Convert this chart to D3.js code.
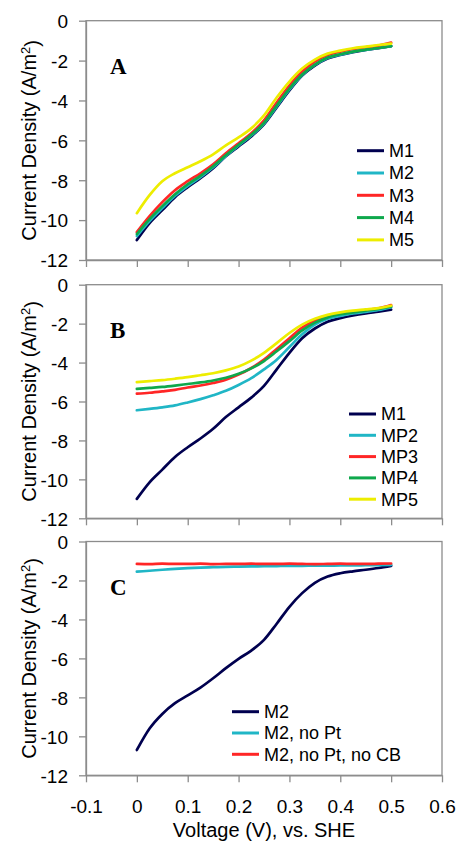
<!DOCTYPE html>
<html>
<head>
    <title>Current Density vs Voltage</title>
    <script src="https://d3js.org/d3.v7.min.js"></script>
    <style>
        body {
            margin: 0;
            background: #fff;
            font-family: Arial, "Liberation Sans", sans-serif;
        }
        .axis path, .axis line {
            stroke: #8c8c8c;
            stroke-width: 1.3;
        }
        .axis text {
            fill: #000;
            font-size: 19px;
            font-family: Arial, "Liberation Sans", sans-serif;
        }
        .series {
            fill: none;
            stroke-width: 2.7;
            stroke-linejoin: round;
            stroke-linecap: round;
        }
    </style>
</head>
<body>
    <div id="chart"></div>

    <script>
        // Voltage (V vs SHE) sample points shared by all curves
        const voltage = [0, 0.025, 0.05, 0.075, 0.1, 0.125, 0.15, 0.175, 0.2, 0.225, 0.25,
                         0.275, 0.3, 0.325, 0.35, 0.375, 0.4, 0.425, 0.45, 0.475, 0.5];

        // Panel A
        const seriesA = ["M1", "M2", "M3", "M4", "M5"];
        const m1 = [-11.0, -10.15, -9.5, -8.85, -8.35, -7.9, -7.4, -6.8, -6.3, -5.8, -5.2,
                    -4.35, -3.5, -2.75, -2.25, -1.9, -1.72, -1.58, -1.47, -1.38, -1.28];
        const m2 = [-10.8, -10.05, -9.4, -8.78, -8.28, -7.84, -7.35, -6.78, -6.26, -5.76, -5.16,
                    -4.3, -3.45, -2.72, -2.22, -1.87, -1.7, -1.56, -1.46, -1.37, -1.28];
        const m3 = [-10.6, -9.8, -9.1, -8.5, -8.05, -7.65, -7.2, -6.65, -6.15, -5.65, -5.0,
                    -4.1, -3.25, -2.55, -2.05, -1.72, -1.55, -1.42, -1.33, -1.25, -1.1];
        const m4 = [-10.7, -9.95, -9.3, -8.7, -8.2, -7.78, -7.3, -6.75, -6.22, -5.72, -5.12,
                    -4.25, -3.4, -2.7, -2.2, -1.85, -1.68, -1.55, -1.45, -1.37, -1.28];
        const m5 = [-9.65, -8.75, -8.05, -7.65, -7.35, -7.05, -6.7, -6.25, -5.85, -5.4, -4.75,
                    -3.85, -3.05, -2.4, -1.95, -1.65, -1.5, -1.38, -1.3, -1.22, -1.15];

        // Panel B
        const seriesB = ["M1", "MP2", "MP3", "MP4", "MP5"];
        const mp2 = [-6.45, -6.38, -6.3, -6.2, -6.05, -5.88, -5.68, -5.45, -5.15, -4.8, -4.35,
                     -3.85, -3.2, -2.55, -2.05, -1.75, -1.6, -1.48, -1.4, -1.3, -1.15];
        const mp3 = [-5.6, -5.55, -5.48, -5.4, -5.28, -5.18, -5.05, -4.88, -4.62, -4.28, -3.85,
                     -3.3, -2.75, -2.2, -1.85, -1.62, -1.48, -1.38, -1.3, -1.22, -1.05];
        const mp4 = [-5.35, -5.3, -5.25, -5.18, -5.1, -5.02, -4.92, -4.78, -4.58, -4.3, -3.92,
                     -3.42, -2.9, -2.35, -1.95, -1.68, -1.52, -1.42, -1.33, -1.25, -1.12];
        const mp5 = [-5.0, -4.95, -4.9, -4.83, -4.75, -4.65, -4.55, -4.4, -4.2, -3.9, -3.5,
                     -3.0, -2.48, -2.05, -1.75, -1.55, -1.42, -1.33, -1.27, -1.2, -1.08];

        // Panel C
        const seriesC = ["M2", "M2, no Pt", "M2, no Pt, no CB"];
        const m2c = [-10.7, -9.6, -8.85, -8.3, -7.9, -7.5, -7.02, -6.5, -6.02, -5.6, -5.05,
                     -4.22, -3.35, -2.65, -2.12, -1.8, -1.63, -1.53, -1.45, -1.36, -1.25];
        const m2NoPt = [-1.55, -1.5, -1.45, -1.41, -1.37, -1.34, -1.32, -1.3, -1.29, -1.28, -1.27,
                        -1.26, -1.25, -1.25, -1.24, -1.24, -1.23, -1.23, -1.22, -1.21, -1.2];
        const m2NoPtNoCB = [-1.15, -1.16, -1.14, -1.15, -1.15, -1.14, -1.16, -1.15, -1.15, -1.14, -1.15,
                            -1.15, -1.14, -1.15, -1.16, -1.15, -1.14, -1.15, -1.15, -1.14, -1.13];

        // Ticks
        const xTicks = [-0.1, 0, 0.1, 0.2, 0.3, 0.4, 0.5, 0.6];
        const xTickLabels = ["-0.1", "0", "0.1", "0.2", "0.3", "0.4", "0.5", "0.6"];
        const yTicks = [0, -2, -4, -6, -8, -10, -12];
        const yTickLabels = ["0", "-2", "-4", "-6", "-8", "-10", "-12"];

        const colors = ["#00004f", "#20b6c6", "#ff2626", "#0ea84c", "#eded00"];

        // Panels: layout + which series go where
        const panels = [
            {letter: "A", top: 20.7, bottom: 260, names: seriesA, values: [m1, m2, m3, m4, m5],
             colors: colors, legendX: 357, legendY: 150.7, legendStep: 22.3},
            {letter: "B", top: 284.7, bottom: 518.3, names: seriesB, values: [m1, mp2, mp3, mp4, mp5],
             colors: colors, legendX: 349, legendY: 414, legendStep: 21.3},
            {letter: "C", top: 541.5, bottom: 775.3, names: seriesC, values: [m2c, m2NoPt, m2NoPtNoCB],
             colors: [colors[0], colors[1], colors[2]], legendX: 232, legendY: 711.7, legendStep: 21.3, xLabels: true}
        ];

        const width = 460, height = 842;
        const left = 86, right = 442;

        const svg = d3.select('#chart')
            .append('svg')
            .attr('width', width)
            .attr('height', height);

        const x = d3.scaleLinear().domain([-0.1, 0.6]).range([left, right]);

        panels.forEach(p => {
            const y = d3.scaleLinear().domain([-12, 0]).range([p.bottom, p.top]);
            const g = svg.append('g');

            // plot frame
            g.append('rect')
                .attr('x', left)
                .attr('y', p.top)
                .attr('width', right - left)
                .attr('height', p.bottom - p.top)
                .attr('fill', 'none')
                .attr('stroke', '#8c8c8c')
                .attr('stroke-width', 1.3);

            // y axis
            g.append('g')
                .attr('class', 'axis')
                .attr('transform', `translate(${left},0)`)
                .call(d3.axisLeft(y)
                    .tickValues(yTicks)
                    .tickFormat((d, i) => yTickLabels[i])
                    .tickSize(7)
                    .tickSizeOuter(0)
                    .tickPadding(11))
                .selectAll('text')
                .attr('dy', '0.36em');

            // x axis
            g.append('g')
                .attr('class', 'axis')
                .attr('transform', `translate(0,${p.bottom})`)
                .call(d3.axisBottom(x)
                    .tickValues(xTicks)
                    .tickFormat((d, i) => p.xLabels ? xTickLabels[i] : '')
                    .tickSize(7)
                    .tickSizeOuter(0)
                    .tickPadding(17));

            // y title
            const yt = g.append('text')
                .attr('transform', `translate(36,${(p.top + p.bottom) / 2}) rotate(-90)`)
                .attr('text-anchor', 'middle')
                .style('font-size', '20px')
                .text('Current Density (A/m');
            yt.append('tspan')
                .attr('dy', '-0.45em')
                .style('font-size', '13px')
                .text('2');
            yt.append('tspan')
                .attr('dy', '0.45em')
                .text(')');

            // panel letter
            g.append('text')
                .attr('x', 110)
                .attr('y', p.top + 53.5)
                .style('font-family', '"Liberation Serif", "Times New Roman", serif')
                .style('font-weight', 'bold')
                .style('font-size', '23px')
                .text(p.letter);

            // curves
            const line = d3.line()
                .x((d, i) => x(voltage[i]))
                .y(d => y(d))
                .curve(d3.curveMonotoneX);

            g.append('g')
                .selectAll('path')
                .data(p.values)
                .join('path')
                .attr('class', 'series')
                .attr('stroke', (d, i) => p.colors[i])
                .attr('d', line);

            // legend
            const leg = g.append('g')
                .selectAll('g')
                .data(p.names)
                .join('g')
                .attr('transform', (d, i) => `translate(${p.legendX},${p.legendY + i * p.legendStep})`);
            leg.append('line')
                .attr('x1', 0).attr('x2', 27)
                .attr('stroke', (d, i) => p.colors[i])
                .attr('stroke-width', 3);
            leg.append('text')
                .attr('x', 32)
                .attr('dy', '0.36em')
                .style('font-size', '18px')
                .text(d => d);
        });

        // x title
        svg.append('text')
            .attr('x', 264)
            .attr('y', 837)
            .attr('text-anchor', 'middle')
            .style('font-size', '20px')
            .text('Voltage (V), vs. SHE');
    </script>
</body>
</html>
